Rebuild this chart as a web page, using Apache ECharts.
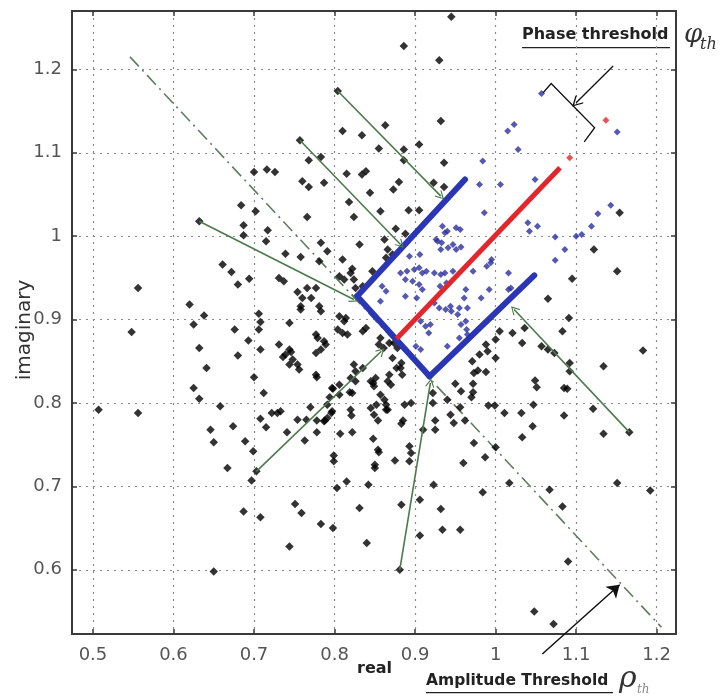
<!DOCTYPE html>
<html><head><meta charset="utf-8">
<script src="https://cdn.jsdelivr.net/npm/echarts/dist/echarts.min.js"></script>
<style>html,body{margin:0;padding:0;background:#fff}#c{width:726px;height:700px}</style>
</head><body><div id="c"></div>
<script>
const xTicks=[0.5,0.6,0.7,0.8,0.9,1.0,1.1,1.2];
const yTicks=[0.6,0.7,0.8,0.9,1.0,1.1,1.2];
const xRange=[0.474,1.224];
const yRange=[0.523,1.270];

const blackPoints=[
[0.945,1.263],[0.886,1.228],[0.930,1.211],[0.804,1.174],[0.932,1.138],[0.863,1.133],[0.810,1.126],[0.834,1.121],[0.757,1.115],[0.855,1.105],[0.886,1.104],[0.886,1.091],[0.905,1.110],[0.936,1.088],[0.783,1.095],[0.768,1.091],[0.700,1.077],[0.716,1.080],[0.726,1.077],[0.815,1.075],[0.834,1.074],[0.839,1.078],[0.760,1.066],[0.768,1.059],[0.787,1.064],[0.880,1.065],[0.873,1.056],[0.923,1.064],[0.936,1.059],[0.844,1.052],[0.818,1.041],[0.857,1.030],[0.892,1.031],[0.905,1.031],[0.766,1.023],[0.824,1.023],[0.684,1.037],[0.702,1.030],[0.632,1.018],[0.687,1.013],[0.687,1.001],[0.717,1.007],[0.715,0.994],[0.876,1.009],[0.888,1.003],[0.862,0.996],
[0.783,0.992],[0.791,0.982],[0.831,0.990],[0.739,0.979],[0.758,0.975],[0.781,0.970],[0.810,0.972],[0.847,0.958],[0.866,0.984],[0.864,0.974],[0.872,0.978],[0.822,0.961],[0.820,0.956],[0.824,0.948],[0.806,0.952],[0.812,0.948],[0.731,0.950],[0.737,0.946],[0.766,0.938],[0.777,0.938],[0.754,0.933],[0.771,0.926],[0.760,0.926],[0.835,0.940],[0.826,0.938],[0.661,0.966],[0.672,0.957],[0.680,0.942],[0.694,0.949],[0.556,0.938],[0.620,0.918],[0.638,0.905],[0.625,0.894],[0.548,0.885],[0.676,0.888],[0.693,0.875],[0.706,0.907],[0.708,0.897],[0.706,0.888],[0.758,0.916],[0.758,0.912],[0.781,0.916],[0.783,0.910],[0.744,0.896],[0.806,0.904],[0.812,0.898],[0.814,0.902],[0.804,0.888],[0.810,0.884],[0.816,0.882],[0.835,0.886],[0.839,0.890],[0.777,0.882],[0.779,0.878],[0.787,0.874],[0.789,0.870],[0.783,0.864],[0.777,0.860],[0.731,0.870],[0.744,0.864],[0.739,0.858],[0.748,0.852],[0.744,0.846],[0.754,0.846],[0.756,0.840],[0.708,0.864],[0.680,0.857],[0.632,0.866],[0.641,0.842],[0.700,0.831],[0.625,0.818],[0.632,0.805],[0.658,0.796],[0.712,0.812],[0.507,0.792],[0.556,0.788],[0.708,0.781],[0.722,0.788],[0.674,0.772],[0.646,0.768],[0.650,0.753],[0.689,0.754],[0.667,0.722],[0.699,0.742],[0.715,0.771],[0.729,0.788],[0.697,0.707],[0.703,0.718],[0.741,0.765],[0.754,0.780],[0.765,0.780],[0.778,0.779],[0.788,0.779],[0.770,0.795],[0.763,0.755],[0.778,0.765],[0.796,0.788],[0.794,0.807],[0.798,0.817],[0.807,0.763],[0.799,0.737],[0.799,0.730],[0.803,0.698],[0.815,0.706],[0.751,0.679],[0.759,0.668],[0.687,0.670],[0.708,0.663],[0.783,0.655],[0.798,0.650],[0.744,0.628],[0.650,0.598],[0.821,0.785],[0.819,0.813],[0.822,0.765],[0.831,0.674],[0.736,0.855],[0.746,0.861],[0.778,0.831],
[0.848,0.757],[0.855,0.741],[0.850,0.726],[0.850,0.722],[0.875,0.731],[0.893,0.748],[0.895,0.740],[0.893,0.730],[0.925,0.768],[0.973,0.752],[0.960,0.728],[0.842,0.702],[0.923,0.702],[0.883,0.678],[0.906,0.684],[0.932,0.673],[0.906,0.641],[0.934,0.648],[0.956,0.648],[0.840,0.632],[0.881,0.600],[0.984,0.693],[1.017,0.704],[1.067,0.696],[1.083,0.676],[1.090,0.610],[1.048,0.550],[1.072,0.535],[1.151,0.704],[1.192,0.695],[1.134,0.763],[1.166,0.765],[1.121,0.793],[1.085,0.785],[1.089,0.817],[1.134,0.844],[1.183,0.863],[1.046,0.772],[1.033,0.759],[1.047,0.798],[1.032,0.788],[1.011,0.788],[0.991,0.797],[0.999,0.797],[1.000,0.747],[0.987,0.735],[0.962,0.779],[0.956,0.795],[1.049,0.827],[1.051,0.819],[1.092,0.848],[1.092,0.838],[0.972,0.823],[0.972,0.813],[0.970,0.807],[0.978,0.839],[0.988,0.837],[0.950,0.823],[0.925,0.779],[0.910,0.768],[0.922,0.812],[0.887,0.798],[0.895,0.800],[0.885,0.779],[0.883,0.775],[0.852,0.798],[0.864,0.798],[0.864,0.792],[0.854,0.779],[0.854,0.744],
[1.122,0.984],[1.151,0.958],[1.095,0.949],[1.065,0.925],[1.091,0.902],[1.083,0.886],[1.005,0.886],[1.021,0.884],[1.036,0.890],[1.000,0.876],[1.033,0.872],[0.988,0.870],[0.990,0.862],[0.980,0.858],[1.000,0.854],[1.057,0.868],[1.065,0.864],[1.073,0.860],[1.085,0.818],[1.154,1.028],
[0.857,0.878],[0.855,0.870],[0.861,0.866],[0.868,0.872],[0.874,0.872],[0.878,0.866],[0.872,0.854],[0.882,0.842],[0.884,0.834],[0.777,0.834],[0.824,0.846],[0.826,0.838],[0.835,0.842],[0.820,0.830],[0.826,0.826],[0.845,0.826],[0.851,0.830],[0.849,0.820],[0.868,0.834],[0.866,0.826],[0.870,0.822],[0.797,0.818],[0.806,0.822],[0.806,0.810],[0.822,0.812],[0.857,0.810],[0.862,0.804],[0.866,0.792],[0.845,0.794],[0.849,0.786],[0.820,0.792],[0.791,0.798],[0.797,0.790],[0.791,0.782],[0.787,0.778],[0.733,0.790],[0.957,0.814],[0.940,0.804],[0.944,0.786],[0.948,0.776],[0.922,0.800],[0.971,0.850],[0.973,0.836],[0.848,0.824],[0.877,0.842],[0.883,0.848]
];

const bluePoints=[
[1.057,1.171],[1.023,1.134],[1.015,1.126],[1.028,1.104],[0.984,1.090],[0.980,1.062],[1.006,1.062],[1.049,1.068],[0.986,1.028],[1.127,1.027],[1.143,1.037],[1.151,1.125],
[1.040,1.016],[1.042,1.006],[1.052,1.012],[1.074,0.999],[1.086,0.984],[1.074,0.971],[1.107,1.002],[1.100,1.000],[1.119,1.012],[0.994,0.968],[1.016,0.956],[0.992,0.936],[0.982,0.926],[1.019,0.938],
[0.956,1.008],[0.937,1.004],[0.926,0.996],[0.933,0.992],[0.947,0.990],[0.957,0.987],[0.941,0.986],[0.893,0.976],[0.906,0.978],[0.914,0.958],[0.924,0.956],[0.937,0.956],[0.947,0.958],[0.972,0.958],[0.995,0.972],[0.989,0.964],[0.931,0.940],[0.939,0.944],[0.963,0.936],[0.961,0.926],[1.016,0.936],[0.945,0.910],[0.955,0.914],[0.953,0.906],[0.964,0.888],
[0.934,1.012],[0.940,1.006],[0.951,1.010],[0.928,0.994],[0.932,0.984],[0.951,0.984],[0.882,0.956],[0.890,0.958],[0.899,0.960],[0.905,0.962],[0.909,0.956],[0.932,0.954],[0.888,0.948],[0.897,0.946],[0.859,0.940],[0.864,0.934],[0.857,0.922],[0.888,0.928],[0.902,0.926],[0.905,0.942],[0.909,0.936],[0.924,0.920],[0.930,0.914],[0.938,0.912],[0.944,0.916],[0.965,0.914],[0.963,0.898],[0.957,0.894],[0.907,0.898],[0.913,0.892],[0.919,0.894],[0.917,0.884],[0.901,0.868],[0.907,0.864],[0.940,0.868],[0.955,0.878],[0.965,0.882]
];

const blueEdges=[
  [[0.828,0.928],[0.962,1.068]],
  [[0.828,0.928],[0.918,0.832]],
  [[0.918,0.832],[1.048,0.953]]
];
const redLine=[[0.877,0.877],[1.080,1.082]];
const redDots=[[1.092,1.094],[1.137,1.139]];
const thresholdLine=[[0.546,1.215],[1.206,0.531]];
const greenArrows=[
  [[0.632,1.018],[0.824,0.924]],
  [[0.757,1.115],[0.882,0.990]],
  [[0.804,1.174],[0.932,1.048]],
  [[1.166,0.765],[1.023,0.912]],
  [[0.881,0.600],[0.919,0.824]],
  [[0.703,0.718],[0.858,0.862]]
];
const amplitudeArrow=[[1.058,0.499],[1.154,0.582]];
const phaseArrow=[[1.146,1.204],[1.100,1.160]];
const phaseBracket=[[1.059,1.172],[1.069,1.183],[1.123,1.130],[1.110,1.113]];

const chevron='path://M0,0 L6,9 L5,10 L0,2.5 L-5,10 L-6,9 Z';

function xAx(pos, show){
  return {type:'value', position:pos, min:xRange[0], max:xRange[1], minInterval:0.1, maxInterval:0.1,
    axisLine:{show:true,onZero:false,lineStyle:{color:'#3a3a3a',width:2}},
    axisTick:{show:true,inside:true,length:5,customValues:xTicks,lineStyle:{color:'#3a3a3a',width:1.5}},
    axisLabel:{show:show,customValues:xTicks,color:'#555',fontSize:18,fontFamily:'DejaVu Sans',margin:12},
    splitLine:{show:show,lineStyle:{color:'#8a8a8a',type:[2,5],width:1.2}}};
}
function yAx(pos, show){
  return {type:'value', position:pos, min:yRange[0], max:yRange[1], minInterval:0.1, maxInterval:0.1,
    axisLine:{show:true,onZero:false,lineStyle:{color:'#3a3a3a',width:2}},
    axisTick:{show:true,inside:true,length:5,customValues:yTicks,lineStyle:{color:'#3a3a3a',width:1.5}},
    axisLabel:{show:show,customValues:yTicks,color:'#555',fontSize:18,fontFamily:'DejaVu Sans',margin:10},
    splitLine:{show:show,lineStyle:{color:'#8a8a8a',type:[2,5],width:1.2}}};
}

const chart=echarts.init(document.getElementById('c'),null,{renderer:'canvas'});
chart.setOption({
  animation:false,
  backgroundColor:'#fff',
  grid:{left:72,right:50,top:11,bottom:66,containLabel:false},
  xAxis:[xAx('bottom',true),xAx('top',false)],
  yAxis:[yAx('left',true),yAx('right',false)],
  series:[
    {type:'line',data:thresholdLine,symbol:'none',z:1,lineStyle:{color:'#5f7d5f',width:1.6,type:[13,5,2,5]}},
    {type:'scatter',data:blackPoints,symbol:'diamond',symbolSize:8.5,z:2,itemStyle:{color:'#000'}},
    {type:'lines',coordinateSystem:'cartesian2d',z:3,data:blueEdges.map(c=>({coords:c})),lineStyle:{color:'#2a36b4',width:6,opacity:1,cap:'round'}},
    {type:'scatter',data:bluePoints,symbol:'diamond',symbolSize:7,z:4,itemStyle:{color:'#2c2f9e'}},
    {type:'line',data:redLine,symbol:'none',z:5,lineStyle:{color:'#e3262b',width:5}},
    {type:'scatter',data:redDots,symbol:'diamond',symbolSize:7,z:5,itemStyle:{color:'#e3262b'}},
    {type:'lines',coordinateSystem:'cartesian2d',z:6,data:greenArrows.map(c=>({coords:c})),symbol:['none',chevron],symbolSize:[10,9],lineStyle:{color:'#4b7a4b',width:1.6,opacity:1},itemStyle:{color:'#4b7a4b'}},
    {type:'lines',coordinateSystem:'cartesian2d',z:7,clip:false,data:[{coords:amplitudeArrow}],symbol:['none','arrow'],symbolSize:[9,12],lineStyle:{color:'#111',width:1.5,opacity:1}},
    {type:'lines',coordinateSystem:'cartesian2d',z:7,data:[{coords:phaseArrow}],symbol:['none',chevron],symbolSize:[12,11],lineStyle:{color:'#111',width:1.3,opacity:1}},
    {type:'lines',coordinateSystem:'cartesian2d',z:7,polyline:true,data:[{coords:phaseBracket}],symbol:['none','arrow'],symbolSize:[7,8],lineStyle:{color:'#111',width:1.3,opacity:1}}
  ],
  graphic:[
    {type:'text',left:522,top:27,style:{text:'Phase threshold',font:'bold 16px "DejaVu Sans"',fill:'#222'}},
    {type:'rect',shape:{x:522,y:47,width:148,height:1.3},style:{fill:'#222'}},
    {type:'text',left:684,top:22,style:{text:'\u03c6',font:'italic 26px "DejaVu Serif"',fill:'#333'}},
    {type:'text',left:700,top:37,style:{text:'th',font:'italic 16px "DejaVu Serif"',fill:'#333'}},
    {type:'text',left:426,top:673,style:{text:'Amplitude Threshold',font:'bold 15.5px "DejaVu Sans"',fill:'#222'}},
    {type:'rect',shape:{x:426,y:692,width:187,height:1.3},style:{fill:'#222'}},
    {type:'text',left:619,top:664,style:{text:'\u03c1',font:'italic 30px "DejaVu Serif"',fill:'#333'}},
    {type:'text',left:637,top:684,style:{text:'th',font:'italic 12px "DejaVu Serif"',fill:'#888'}},
    {type:'text',left:357,top:661,style:{text:'real',font:'bold 16px "DejaVu Sans"',fill:'#222'}},
    {type:'text',x:25,y:330,rotation:Math.PI/2,style:{text:'imaginary',font:'20px "DejaVu Sans"',fill:'#333',align:'center',verticalAlign:'middle'}}
  ]
});
</script></body></html>
